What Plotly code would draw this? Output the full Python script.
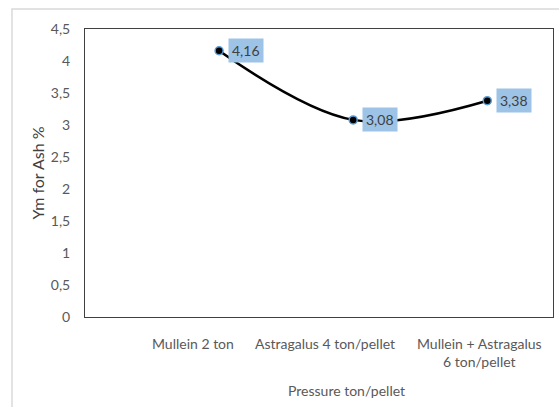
import plotly.graph_objects as go

categories = ["Mullein 2 ton", "Astragalus 4 ton/pellet", "Mullein + Astragalus<br>6 ton/pellet"]
x_pos = [1, 2, 3]
values = [4.16, 3.08, 3.38]
label_pos = [0.806, 1.791, 2.94]
y_title = "Ym for Ash %"
x_title = "Pressure ton/pellet"

FONT = "Lato"
GRAY = "#595959"

fig = go.Figure()
fig.add_trace(go.Scatter(
    x=x_pos, y=values, mode="lines+markers",
    line=dict(color="black", width=2.5, shape="spline", smoothing=1.0),
    marker=dict(color="black", size=8, line=dict(color="#5B9BD5", width=1.5)),
    showlegend=False, hoverinfo="skip",
))

annotations = []
for xv, yv in zip(x_pos, values):
    annotations.append(dict(
        x=xv, y=yv, xref="x", yref="y", text=f"{yv:.2f}".replace(".", ","),
        showarrow=False, xanchor="left", yanchor="middle", xshift=9,
        bgcolor="#9DC3E6", borderpad=3,
        font=dict(family=FONT, size=14, color="#404040"),
    ))
for xv, lab in zip(label_pos, categories):
    annotations.append(dict(
        x=xv, y=0, xref="x", yref="paper", text=lab, showarrow=False,
        xanchor="center", yanchor="top", yshift=-16, align="center",
        font=dict(family=FONT, size=14, color=GRAY),
    ))
annotations.append(dict(
    x=1.95, y=0, xref="x", yref="paper", text=x_title, showarrow=False,
    xanchor="center", yanchor="top", yshift=-63,
    font=dict(family=FONT, size=14, color=GRAY),
))

fig.update_layout(
    width=559, height=407,
    margin=dict(l=85, r=6, t=29, b=90),
    paper_bgcolor="white", plot_bgcolor="white",
    separators=",.",
    font=dict(family=FONT, size=14, color=GRAY),
    annotations=annotations,
    shapes=[dict(type="rect", xref="paper", yref="paper",
                 x0=-0.156, y0=-0.5, x1=1.2, y1=1.0694,
                 line=dict(color="#D9D9D9", width=1.5), layer="below")],
    xaxis=dict(range=[0, 3.49], showgrid=False, zeroline=False,
               showticklabels=False, ticks="",
               showline=True, linecolor="#404040", linewidth=1, mirror=True),
    yaxis=dict(range=[0, 4.5], dtick=0.5, showgrid=False, zeroline=False,
               ticks="", ticklabelstandoff=11,
               tickfont=dict(family=FONT, size=14, color=GRAY),
               showline=True, linecolor="#404040", linewidth=1, mirror=True,
               title=dict(text=y_title, standoff=2,
                          font=dict(family=FONT, size=16, color="#404040"))),
)

fig.write_html("out.html")
